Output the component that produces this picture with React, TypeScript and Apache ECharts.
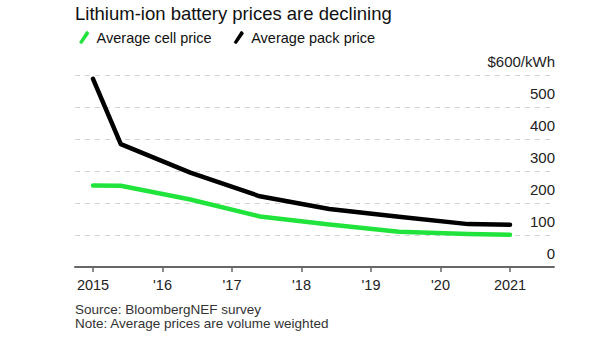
import React, { useEffect, useRef } from "react";
import * as echarts from "echarts";

const title = "Lithium-ion battery prices are declining";
const seriesNames = ["Average cell price", "Average pack price"];
const xPositions = [2015, 2015.4, 2016.4, 2017.4, 2018.4, 2019.4, 2020.4, 2021];
const cellPrice = [255, 254, 211, 158, 133, 110, 103, 101];
const packPrice = [588, 384, 295, 221, 181, 157, 134, 132];
const yearTicks = [2015, 2016, 2017, 2018, 2019, 2020, 2021];
const yearLabels = ["2015", "'16", "'17", "'18", "'19", "'20", "2021"];
const footnotes = ["Source: BloombergNEF survey", "Note: Average prices are volume weighted"];

const GREEN = "#20e43c";
const BLACK = "#000000";
const FONT = "'Liberation Sans', Arial, sans-serif";
const ICON = "path://M1,12 L8,1 Q9,0 10,1 L11,2 Q12,3 11,4 L4,14 Q3,15 2,14 L1,13 Q0,12.5 1,12 Z";

export default function App() {
  const ref = useRef<HTMLDivElement>(null);
  useEffect(() => {
    if (!ref.current) return;
    const chart = echarts.init(ref.current, null, { renderer: "svg" });
    const toPairs = (vals: number[]) => vals.map((v, i) => [xPositions[i], v]);
    chart.setOption({
      animation: false,
      backgroundColor: "#ffffff",
      textStyle: { fontFamily: FONT },
      title: {
        text: title,
        left: 70,
        top: -1,
        textStyle: { fontSize: 18.5, fontWeight: "normal", color: "#111", fontFamily: FONT },
      },
      legend: {
        left: 74,
        top: 25,
        itemWidth: 11,
        itemHeight: 13,
        itemGap: 22,
        data: [
          { name: seriesNames[0], icon: ICON, itemStyle: { color: GREEN } },
          { name: seriesNames[1], icon: ICON, itemStyle: { color: BLACK } },
        ],
        textStyle: { fontSize: 14.5, color: "#111", fontFamily: FONT, padding: [0, 0, 0, 2] },
      },
      grid: { left: 75, right: 58, top: 75, bottom: 77 },
      xAxis: {
        type: "value",
        min: 2014.741,
        max: 2021.633,
        axisLine: { show: true, lineStyle: { color: "#666", width: 2 } },
        axisTick: { show: true, customValues: yearTicks, length: 5, lineStyle: { color: "#666", width: 1.5 } },
        axisLabel: {
          customValues: yearTicks,
          formatter: (v: number) => yearLabels[yearTicks.indexOf(Math.round(v))] ?? "",
          fontSize: 14.5,
          color: "#222",
          margin: 10,
          fontFamily: FONT,
        },
        splitLine: { show: false },
      },
      yAxis: {
        type: "value",
        position: "right",
        min: 0,
        max: 600,
        interval: 100,
        axisLine: { show: false },
        axisTick: { show: false },
        axisLabel: {
          inside: true,
          margin: -1,
          verticalAlign: "bottom",
          padding: [0, 0, 6, 0],
          fontSize: 15,
          color: "#222",
          fontFamily: FONT,
          formatter: (v: number) => (v === 600 ? "$600/kWh" : String(v)),
        },
        splitLine: { show: true, lineStyle: { color: "#d4d4d4", type: [5, 5], width: 1 } },
      },
      series: [
        {
          name: seriesNames[0],
          type: "line",
          data: toPairs(cellPrice),
          showSymbol: false,
          lineStyle: { color: GREEN, width: 4.5, cap: "round", join: "round" },
          itemStyle: { color: GREEN },
        },
        {
          name: seriesNames[1],
          type: "line",
          data: toPairs(packPrice),
          showSymbol: false,
          lineStyle: { color: BLACK, width: 4.5, cap: "round", join: "round" },
          itemStyle: { color: BLACK },
        },
      ],
      graphic: footnotes.map((t, i) => ({
        type: "text",
        x: 75,
        y: 302 + i * 14,
        style: { text: t, fontSize: 13.5, fill: "#333", fontFamily: FONT, verticalAlign: "top", align: "left" },
      })),
    });
    return () => chart.dispose();
  }, []);
  return <div ref={ref} style={{ width: 612, height: 344, position: "absolute", left: 0, top: 0 }} />;
}
